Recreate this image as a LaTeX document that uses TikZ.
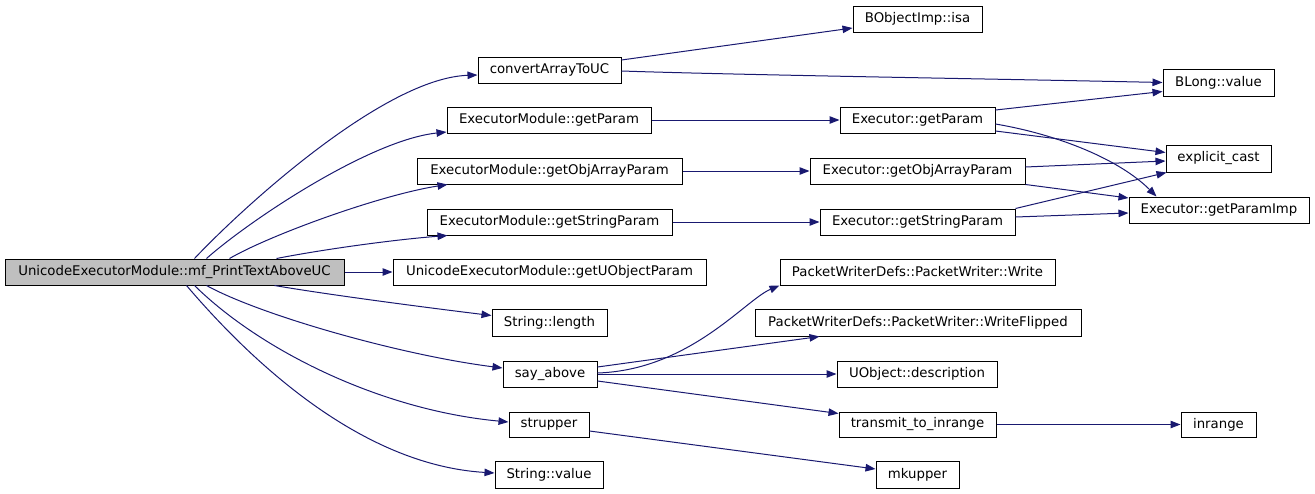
\documentclass[tikz,border=0pt]{standalone}
\usepackage{fontspec}
\setmainfont{DejaVu Sans}
\usetikzlibrary{arrows.meta,calc}
\definecolor{edgeblue}{HTML}{191970}
\definecolor{maingray}{HTML}{BFBFBF}
\begin{document}
\begin{tikzpicture}[x=1pt,y=-1pt,
  box/.style={draw=black,line width=1pt,fill=white,inner sep=0pt,minimum height=26pt,
    font=\fontsize{13.3}{16}\selectfont},
  edge/.style={draw=edgeblue,line width=1pt,-{Triangle[length=10pt,width=7.5pt]}},
  ]
\useasboundingbox (0,0) rectangle (1315,493);
% nodes
\node[box,fill=maingray,minimum width=339pt] (main) at (174.5,272) {UnicodeExecutorModule::mf\_PrintTextAboveUC};
\node[box,minimum width=143pt] (cvt) at (549.5,70) {convertArrayToUC};
\node[box,minimum width=129pt] (isa) at (917.5,19) {BObjectImp::isa};
\node[box,minimum width=111pt,minimum height=27pt] (blong) at (1218.5,82.5) {BLong::value};
\node[box,minimum width=204pt] (emgp) at (549,120) {ExecutorModule::getParam};
\node[box,minimum width=155pt] (egp) at (917.5,120) {Executor::getParam};
\node[box,minimum width=105pt,minimum height=27pt] (ecast) at (1218.5,158.5) {explicit\_cast};
\node[box,minimum width=265pt] (emgoa) at (549.5,171) {ExecutorModule::getObjArrayParam};
\node[box,minimum width=215pt] (egoa) at (917.5,171) {Executor::getObjArrayParam};
\node[box,minimum width=180pt] (egpi) at (1219,210) {Executor::getParamImp};
\node[box,minimum width=245pt] (emgsp) at (549.5,222) {ExecutorModule::getStringParam};
\node[box,minimum width=195pt] (egsp) at (917.5,222) {Executor::getStringParam};
\node[box,minimum width=313pt] (guop) at (549.5,272) {UnicodeExecutorModule::getUObjectParam};
\node[box,minimum width=275pt] (pww) at (917.5,272) {PacketWriterDefs::PacketWriter::Write};
\node[box,minimum width=326pt,minimum height=27pt] (pwwf) at (918,322.5) {PacketWriterDefs::PacketWriter::WriteFlipped};
\node[box,minimum width=115pt,minimum height=27pt] (len) at (549.5,322.5) {String::length};
\node[box,minimum width=94pt] (say) at (550,374) {say\_above};
\node[box,minimum width=160pt] (udesc) at (917,374) {UObject::description};
\node[box,minimum width=80pt,minimum height=25pt] (strup) at (549,424.5) {strupper};
\node[box,minimum width=157pt,minimum height=25pt] (trans) at (917.5,424.5) {transmit\_to\_inrange};
\node[box,minimum width=75pt,minimum height=25pt] (inr) at (1218.5,424.5) {inrange};
\node[box,minimum width=108pt,minimum height=27pt] (sval) at (549,474.5) {String::value};
\node[box,minimum width=83pt,minimum height=27pt] (mku) at (917.5,474.5) {mkupper};
% edges from main
\draw[edge] ($(main.north west)+(190,0)$) .. controls (245,205) and (385,78) .. ($(cvt.west)+(0,5)$);
\draw[edge] ($(main.north west)+(202,0)$) .. controls (250,220) and (370,140) .. ($(emgp.west)+(0,12)$);
\draw[edge] ($(main.north west)+(225,0)$) .. controls (270,235) and (380,195) .. ($(emgoa.south west)+(31,0)$);
\draw[edge] ($(main.north west)+(272,0)$) .. controls (320,250) and (390,240) .. ($(emgsp.south west)+(21,0)$);
\draw[edge] (main.east) -- (guop.west);
\draw[edge] ($(main.south west)+(270,0)$) .. controls (330,295) and (430,308) .. ($(len.west)+(0,-7)$);
\draw[edge] ($(main.south west)+(202,0)$) .. controls (260,315) and (400,355) .. ($(say.west)+(0,-6)$);
\draw[edge] ($(main.south west)+(190,0)$) .. controls (260,350) and (380,410) .. ($(strup.west)+(0,-2.5)$);
\draw[edge] ($(main.south west)+(182,0)$) .. controls (250,360) and (360,465) .. ($(sval.west)+(0,-1.5)$);
% second level
\draw[edge] ($(cvt.east)+(0,-10)$) -- ($(isa.west)+(0,9)$);
\draw[edge] ($(cvt.east)+(0,1)$) .. controls (740,75) and (1000,79) .. (blong.west);
\draw[edge] (emgp.east) -- (egp.west);
\draw[edge] ($(egp.east)+(0,-10)$) -- ($(blong.west)+(0,9)$);
\draw[edge] ($(egp.east)+(0,11)$) -- ($(ecast.west)+(0,-6)$);
\draw[edge] ($(egp.east)+(0,4)$) .. controls (1060,135) and (1120,160) .. ($(egpi.north west)+(28,0)$);
\draw[edge] (emgoa.east) -- (egoa.west);
\draw[edge] ($(egoa.east)+(0,-4)$) -- ($(ecast.west)+(0,2.5)$);
\draw[edge] (egoa.south east) -- ($(egpi.west)+(0,-12)$);
\draw[edge] (emgsp.east) -- (egsp.west);
\draw[edge] (egsp.north east) -- ($(ecast.south west)+(1,0)$);
\draw[edge] ($(egsp.east)+(0,-5)$) -- ($(egpi.west)+(0,3)$);
\draw[edge] ($(say.east)+(0,-1)$) .. controls (690,370) and (745,300) .. (pww.south west);
\draw[edge] ($(say.east)+(0,-7)$) -- ($(pwwf.south west)+(65,0)$);
\draw[edge] (say.east) -- (udesc.west);
\draw[edge] ($(say.east)+(0,7)$) -- ($(trans.west)+(0,-11)$);
\draw[edge] (trans.east) -- (inr.west);
\draw[edge] ($(strup.east)+(0,6.5)$) -- ($(mku.west)+(0,-5.5)$);
\end{tikzpicture}
\end{document}
